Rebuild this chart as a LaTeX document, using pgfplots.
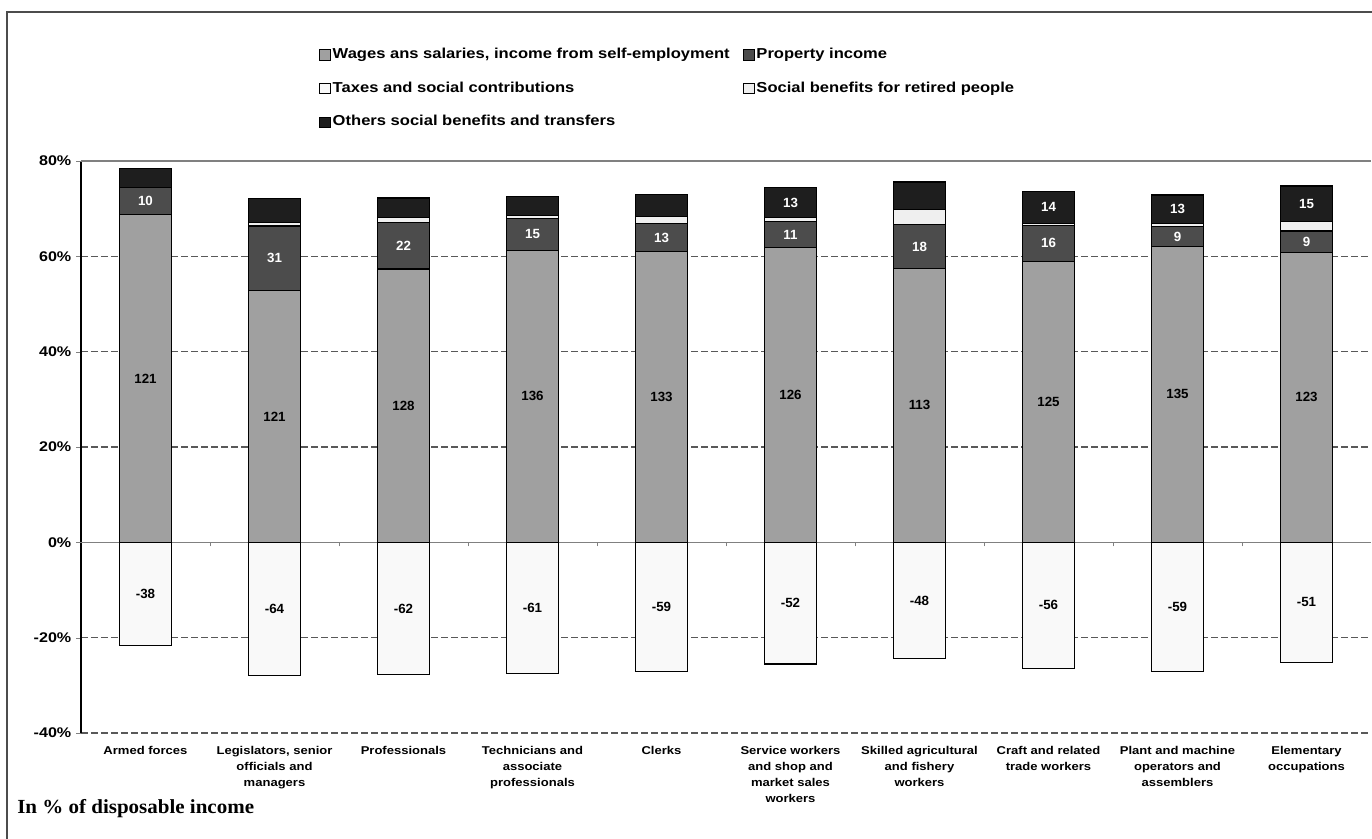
\documentclass[border=0pt]{standalone}
\usepackage{pgfplots}
\pgfplotsset{compat=1.18}
\usepackage{pgfplotstable}
\usepackage{fontspec}
\setmainfont{Liberation Sans}
\newfontfamily\wide{Liberation Sans}[FakeStretch=1.15]
\newfontfamily\serifb{Liberation Serif}[FakeStretch=1.05]

\definecolor{cwage}{HTML}{A0A0A0}
\definecolor{cprop}{HTML}{4C4C4C}
\definecolor{ctax}{HTML}{F9F9F9}
\definecolor{cret}{HTML}{EFEFEF}
\definecolor{coth}{HTML}{1E1E1E}

% Income components by occupation (amounts); bars show each one as a share
% of the sum of absolute amounts. ol = printed label of the "others" segment.
\pgfplotstableread{
idx w   p   t   r    o    ol
0   121 10  -38 0    7    {}
1   121 31  -64 1.8  11.2 {}
2   128 22  -62 2.2  9.1  {}
3   136 15  -61 1.1  8.9  {}
4   133 13  -59 3.1  10   {}
5   126 11  -52 1.8  13   13
6   113 18  -48 6.3  11.4 {}
7   125 16  -56 0.9  14   14
8   135 9   -59 1.5  13   13
9   123 9   -51 4.1  15   15
}\data

\newcommand\tot{(\thisrow{w}+\thisrow{p}+\thisrow{r}+\thisrow{o}-\thisrow{t})}

\pgfplotsset{
  frame/.style={at={(60.75pt,79.5pt)}, anchor=south west,
    width=967.5pt, height=429pt, scale only axis,
    xmin=-0.5, xmax=9.5, ymin=-40, ymax=80},
  seg/.style={draw=black, line width=0.9pt},
  lbl/.style={draw=none, mark=none, nodes near coords, point meta=explicit symbolic,
    every node near coord/.append style={anchor=center, text=#1,
      font=\bfseries\fontsize{10}{12}\selectfont}},
}

\begin{document}
\begin{tikzpicture}
\useasboundingbox (0,0) rectangle (1029pt,629.25pt);

% stacked positive components, grid and axes
\begin{axis}[frame,
  ybar stacked, bar width=0.4,
  axis y line*=left, axis x line*=bottom,
  x axis line style={draw=none}, xtick style={draw=none},
  y axis line style={line width=0.8pt},
  tick align=outside, major tick length=3.75pt,
  ytick={-40,-20,20,40,60}, yticklabels={-40\%,-20\%,20\%,40\%,60\%},
  extra y ticks={0,80}, extra y tick labels={0\%,80\%},
  extra y tick style={grid=major, major grid style={solid, draw=gray, line width=1.1pt}},
  ymajorgrids, major grid style={dashed, dash pattern=on 5pt off 2.5pt, draw=black!65, line width=0.8pt},
  yticklabel style={font=\wide\bfseries\fontsize{10.5}{12}\selectfont},
  xtick=data,
  xticklabels={Armed forces,{Legislators, senior\\officials and\\managers},Professionals,
    {Technicians and\\associate\\professionals},Clerks,
    {Service workers\\and shop and\\market sales\\workers},
    {Skilled agricultural\\and fishery\\workers},{Craft and related\\trade workers},
    {Plant and machine\\operators and\\assemblers},{Elementary\\occupations}},
  xticklabel style={align=center, anchor=north, yshift=-2.5pt,
    font=\wide\bfseries\fontsize{8.5}{12}\selectfont},
  legend columns=2, legend cell align=left,
  legend image code/.code={\draw[#1, draw=black, line width=0.6pt] (0pt,-4pt) rectangle (8pt,4pt);},
  legend style={at={(0.1814,1.2065)}, anchor=north west, draw=none, fill=none,
    font=\wide\bfseries\fontsize{10.8}{12}\selectfont, row sep=11.8pt,
    nodes={inner sep=1.5pt, text height=8pt, text depth=2.5pt},
    /tikz/every even column/.append style={column sep=8.5pt}},
]
\addlegendimage{fill=cwage}\addlegendentry{Wages ans salaries, income from self-employment}
\addlegendimage{fill=cprop}\addlegendentry{Property income}
\addlegendimage{fill=ctax}\addlegendentry{Taxes and social contributions}
\addlegendimage{fill=cret}\addlegendentry{Social benefits for retired people}
\addlegendimage{fill=coth}\addlegendentry{Others social benefits and transfers}

\addplot[seg, fill=cwage] table[x=idx, y expr=100*\thisrow{w}/\tot] {\data};
\addplot[seg, fill=cprop] table[x=idx, y expr=100*\thisrow{p}/\tot] {\data};
\addplot[seg, fill=cret]  table[x=idx, y expr=100*\thisrow{r}/\tot] {\data};
\addplot[seg, fill=coth]  table[x=idx, y expr=100*\thisrow{o}/\tot] {\data};
\end{axis}

% negative component, category separators on the zero line, and value labels
\begin{axis}[frame,
  axis x line=middle, axis y line=none,
  x axis line style={draw=none},
  xtick={0.5,1.5,...,8.5}, xticklabels={},
  tick align=outside, major tick length=3pt,
  xtick style={draw=gray, line width=0.75pt},
]
\addplot[ybar, bar width=0.4, bar shift=0pt, seg, fill=ctax]
  table[x=idx, y expr=100*\thisrow{t}/\tot] {\data};

\addplot[lbl=black] table[x=idx, y expr=50*\thisrow{w}/\tot, meta=w] {\data};
\addplot[lbl=white] table[x=idx, y expr=100*(\thisrow{w}+0.5*\thisrow{p})/\tot, meta=p] {\data};
\addplot[lbl=white] table[x=idx, y expr=100*(\thisrow{w}+\thisrow{p}+\thisrow{r}+0.5*\thisrow{o})/\tot, meta=ol] {\data};
\addplot[lbl=black] table[x=idx, y expr=50*\thisrow{t}/\tot, meta=t] {\data};
\end{axis}

% outer frame and note
\draw[line width=1.5pt, draw=black!70] (5.25pt,-10pt) -- (5.25pt,620.25pt) -- (1045pt,620.25pt);
\node[anchor=base west, inner sep=0pt, font=\serifb\bfseries\fontsize{15}{18}\selectfont]
  at (12.75pt,18.75pt) {In \% of disposable income};
\end{tikzpicture}
\end{document}
